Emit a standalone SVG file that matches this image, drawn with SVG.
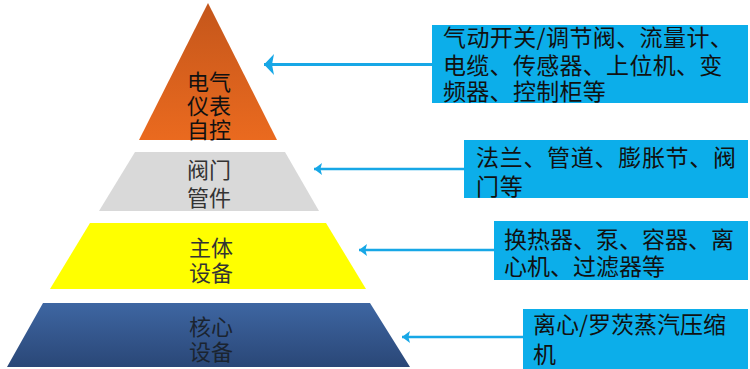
<svg xmlns="http://www.w3.org/2000/svg" width="750" height="369" viewBox="0 0 750 369">
  <defs>
    <linearGradient id="gOrange" x1="0" y1="0" x2="0" y2="1">
      <stop offset="0" stop-color="#c4561b"/>
      <stop offset="1" stop-color="#ea6a1f"/>
    </linearGradient>
    <linearGradient id="gBlue" x1="0" y1="0" x2="0" y2="1">
      <stop offset="0" stop-color="#3e66a2"/>
      <stop offset="1" stop-color="#2a4777"/>
    </linearGradient>
    <marker id="arr" viewBox="0 0 10 10" refX="10" refY="5" markerWidth="8" markerHeight="12" preserveAspectRatio="none" markerUnits="userSpaceOnUse" orient="auto">
      <path d="M0,0 L10,5 L0,10 L2,5 Z" fill="#17a7e6"/>
    </marker>
    <marker id="arrBig" viewBox="0 0 10 10" refX="10" refY="5" markerWidth="10" markerHeight="21" preserveAspectRatio="none" markerUnits="userSpaceOnUse" orient="auto">
      <path d="M0,0 L10,5 L0,10 L2,5 Z" fill="#17a7e6"/>
    </marker>
  </defs>
  <style>
    .lvl { font-family: "Noto Sans CJK SC", "Noto Sans", sans-serif; font-size: 22px; text-anchor: middle; }
    .box { fill: #0caeea; }
    .bt { font-family: "Noto Sans CJK SC", "Noto Sans", sans-serif; font-size: 23px; fill: #111; }
    .conn { stroke: #17a7e6; fill: none; }
  </style>
  <rect width="750" height="369" fill="#ffffff"/>

  <g id="level-electric">
    <polygon points="208,3 277,140 139,140" fill="url(#gOrange)"/>
    <text class="lvl" x="209" y="90" fill="#111">电气</text>
    <text class="lvl" x="209" y="114" fill="#111">仪表</text>
    <text class="lvl" x="209" y="138" fill="#111">自控</text>
  </g>
  <g id="level-valve">
    <polygon points="135,152 285,152 319,211 99,211" fill="#d9d9d9"/>
    <text class="lvl" x="209" y="178" fill="#333">阀门</text>
    <text class="lvl" x="209" y="206" fill="#333">管件</text>
  </g>
  <g id="level-main">
    <polygon points="90,223 326,223 366,289 50,289" fill="#ffff00"/>
    <text class="lvl" x="211" y="256" fill="#333">主体</text>
    <text class="lvl" x="211" y="281" fill="#333">设备</text>
  </g>
  <g id="level-core">
    <polygon points="43,303 370,303 410,367 7,367" fill="url(#gBlue)"/>
    <text class="lvl" x="211" y="335" fill="#1b2430">核心</text>
    <text class="lvl" x="211" y="360" fill="#1b2430">设备</text>
  </g>

  <g id="box-electric">
    <rect class="box" x="432" y="25" width="316" height="78"/>
    <text class="bt" x="443" y="46" letter-spacing="0.4">气动开关/调节阀、流量计、</text>
    <text class="bt" x="443" y="74" letter-spacing="0.3">电缆、传感器、上位机、变</text>
    <text class="bt" x="443" y="100" letter-spacing="0.3">频器、控制柜等</text>
  </g>
  <g id="box-valve">
    <rect class="box" x="464" y="140" width="284" height="58"/>
    <text class="bt" x="476" y="166" letter-spacing="0.7">法兰、管道、膨胀节、阀</text>
    <text class="bt" x="476" y="195" letter-spacing="0.7">门等</text>
  </g>
  <g id="box-main">
    <rect class="box" x="494" y="221" width="254" height="59"/>
    <text class="bt" x="504" y="248">换热器、泵、容器、离</text>
    <text class="bt" x="504" y="275">心机、过滤器等</text>
  </g>
  <g id="box-core">
    <rect class="box" x="523" y="309" width="225" height="60"/>
    <text class="bt" x="533" y="333">离心/罗茨蒸汽压缩</text>
    <text class="bt" x="533" y="363">机</text>
  </g>

  <g id="connectors">
    <line class="conn" x1="432" y1="64.5" x2="264" y2="64.5" stroke-width="3" marker-end="url(#arrBig)"/>
    <line class="conn" x1="464" y1="169" x2="314" y2="169" stroke-width="2.5" marker-end="url(#arr)"/>
    <line class="conn" x1="494" y1="250" x2="359" y2="250" stroke-width="2.5" marker-end="url(#arr)"/>
    <line class="conn" x1="523" y1="337" x2="402" y2="337" stroke-width="2.5" marker-end="url(#arr)"/>
  </g>
</svg>
